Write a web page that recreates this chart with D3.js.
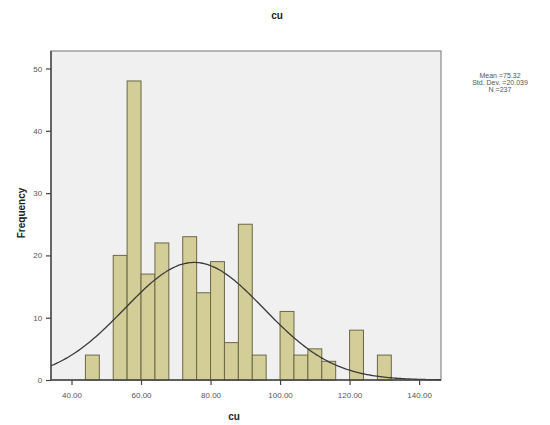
<!DOCTYPE html>
<html>
<head>
<meta charset="utf-8">
<script src="https://cdn.jsdelivr.net/npm/d3@7"></script>
<style>
  html, body { margin: 0; padding: 0; background: #fff; }
  svg { display: block; font-family: Arial, "Liberation Sans", sans-serif; }
</style>
</head>
<body>
<svg id="chart" width="550" height="425"></svg>
<script>
// Histogram of cu: bin lower edges (width 4) and their frequencies
const binStarts = [44, 52, 56, 60, 64, 72, 76, 80, 84, 88, 92, 100, 104, 108, 112, 120, 128];
const binCounts = [4, 20, 48, 17, 22, 23, 14, 19, 6, 25, 4, 11, 4, 5, 3, 8, 4];
const binWidth = 4;
const xTicks = [40, 60, 80, 100, 120, 140];
const yTicks = [0, 10, 20, 30, 40, 50];
const stats = { mean: 75.32, sd: 20.039, n: 237 };
const statLines = ["Mean =75.32", "Std. Dev. =20.039", "N =237"];

const svg = d3.select("#chart");
const plot = { left: 51, right: 441, top: 51, bottom: 380 };

const x = d3.scaleLinear().domain([34.1, 146.3]).range([plot.left, plot.right]);
const y = d3.scaleLinear().domain([0, 50]).range([plot.bottom, 68.5]);

// plot background and frame
svg.append("rect")
  .attr("x", plot.left).attr("y", plot.top)
  .attr("width", plot.right - plot.left).attr("height", plot.bottom - plot.top)
  .attr("fill", "#f0f0f0").attr("stroke", "#8a8a8a").attr("stroke-width", 1.2);

// bars
const bins = binStarts.map((s, i) => ({ x0: s, x1: s + binWidth, count: binCounts[i] }));
svg.append("g").selectAll("rect").data(bins).join("rect")
  .attr("x", d => x(d.x0))
  .attr("y", d => y(d.count))
  .attr("width", d => x(d.x1) - x(d.x0))
  .attr("height", d => y(0) - y(d.count))
  .attr("fill", "#d3ce97")
  .attr("stroke", "#6b6845")
  .attr("stroke-width", 1);

// fitted normal curve scaled to counts
const peak = stats.n * binWidth / (stats.sd * Math.sqrt(2 * Math.PI));
const xs = d3.range(0, 201).map(i => 34.1 + (146.3 - 34.1) * i / 200);
const curve = d3.line()
  .x(v => x(v))
  .y(v => y(peak * Math.exp(-0.5 * Math.pow((v - stats.mean) / stats.sd, 2))))
  .curve(d3.curveBasis);
svg.append("path").datum(xs)
  .attr("d", curve)
  .attr("fill", "none")
  .attr("stroke", "#3a3a3a")
  .attr("stroke-width", 1.3);

// axes
const xAxis = d3.axisBottom(x).tickValues(xTicks).tickFormat(d3.format(".2f")).tickSizeOuter(0).tickSize(5);
const yAxis = d3.axisLeft(y).tickValues(yTicks).tickFormat(d3.format("d")).tickSizeOuter(0).tickSize(5);

const gx = svg.append("g").attr("transform", `translate(0,${plot.bottom})`).call(xAxis);
gx.select(".domain").attr("d", `M${plot.left},0H${plot.right}`);
const gy = svg.append("g").attr("transform", `translate(${plot.left},0)`).call(yAxis);
gy.select(".domain").attr("d", `M0,${plot.top}V${plot.bottom}`);

[gx, gy].forEach(g => {
  g.select(".domain").attr("stroke", "#444").attr("stroke-width", 1.4);
  g.selectAll(".tick line").attr("stroke", "#444").attr("stroke-width", 1.2);
  g.selectAll(".tick text").attr("fill", "#555").attr("font-size", 8)
    .attr("font-family", "Arial, 'Liberation Sans', sans-serif");
});
gx.selectAll(".tick text").attr("dy", "1.2em");
gy.selectAll(".tick text").attr("dx", "-0.1em");

// title and axis titles
svg.append("text").attr("x", 277).attr("y", 19).attr("text-anchor", "middle")
  .attr("font-size", 10).attr("font-weight", "bold").attr("fill", "#222").text("cu");
svg.append("text").attr("x", 234).attr("y", 420).attr("text-anchor", "middle")
  .attr("font-size", 10).attr("font-weight", "bold").attr("fill", "#222").text("cu");
svg.append("text").attr("transform", "translate(25,213) rotate(-90)")
  .attr("text-anchor", "middle").attr("font-size", 10).attr("font-weight", "bold")
  .attr("fill", "#222").text("Frequency");

// summary statistics
svg.append("g").selectAll("text").data(statLines).join("text")
  .attr("x", 500).attr("y", (d, i) => 78 + i * 7)
  .attr("text-anchor", "middle").attr("font-size", 7).attr("fill", "#555")
  .text(d => d);
</script>
</body>
</html>
